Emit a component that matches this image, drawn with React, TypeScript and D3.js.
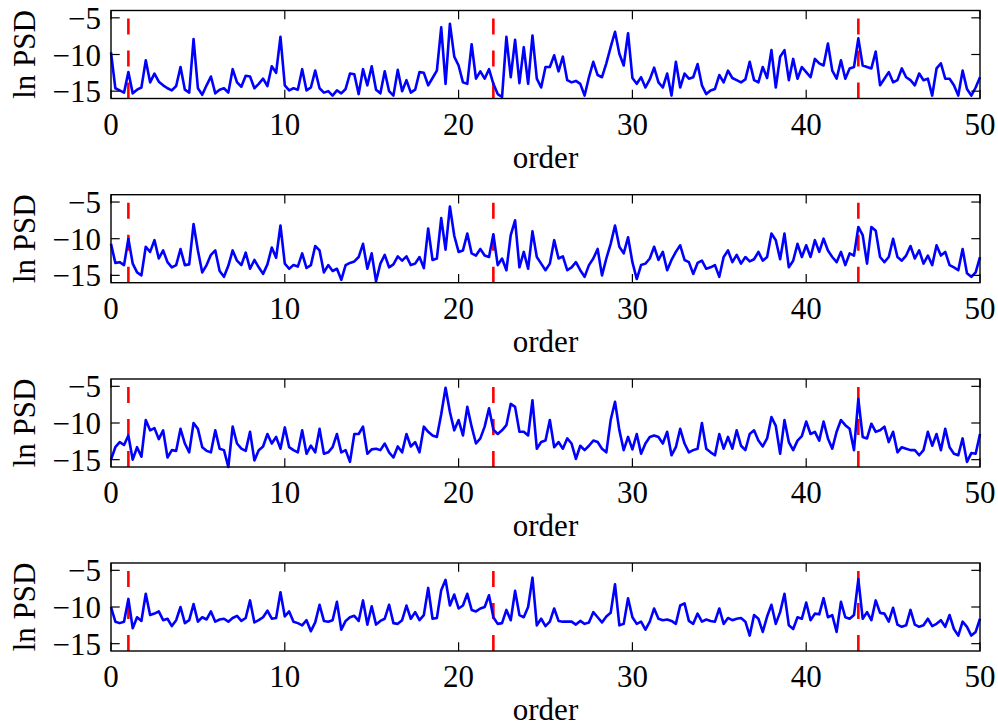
import React from 'react';
import * as d3 from 'd3';

// sampling of the order axis (every quarter order)
const orderStep = 0.25;
const xTicks = [0, 10, 20, 30, 40, 50];
const yTicks = [-15, -10, -5];
const markerOrders = [1, 22, 43];
const markerTop = -5;

const psd1 = [
  -9.7, -14.6, -14.9, -15.2, -12.4, -15.3, -14.8, -14.5,
  -10.8, -13.8, -12.6, -13.7, -14.2, -14.6, -14.9, -14.3,
  -11.7, -14.8, -15.2, -7.9, -14.6, -15.5, -14.2, -13.0,
  -15.3, -14.8, -14.6, -15.2, -12.0, -13.8, -14.4, -12.9,
  -13.0, -14.6, -14.0, -13.3, -14.3, -11.6, -12.5, -7.6,
  -14.2, -14.9, -14.6, -14.8, -12.0, -14.9, -14.5, -12.2,
  -14.6, -15.2, -15.0, -15.6, -14.9, -15.3, -14.7, -12.6,
  -12.7, -15.4, -12.0, -14.2, -11.6, -14.8, -15.3, -12.3,
  -15.0, -15.6, -12.1, -15.0, -13.5, -15.2, -14.8, -12.4,
  -12.5, -14.2, -13.2, -12.2, -6.3, -14.0, -5.8, -10.3,
  -11.5, -13.8, -14.0, -8.6, -13.3, -12.3, -13.3, -12.0,
  -14.0, -15.4, -15.8, -7.6, -13.1, -8.0, -13.9, -9.0,
  -14.0, -7.4, -13.3, -14.5, -11.7, -11.7, -10.1, -12.3,
  -10.3, -13.5, -13.8, -13.6, -14.0, -15.6, -13.1, -11.0,
  -12.8, -13.1, -11.2, -9.0, -6.9, -9.9, -11.5, -7.1,
  -13.2, -14.0, -13.1, -14.5, -13.4, -11.8, -13.8, -14.5,
  -12.6, -15.6, -11.0, -14.5, -12.6, -13.3, -13.1, -11.3,
  -14.2, -15.4, -14.9, -14.7, -12.8, -13.8, -12.2, -13.2,
  -13.5, -13.8, -13.4, -11.0, -13.5, -13.8, -11.7, -13.2,
  -9.4, -14.5, -10.3, -9.4, -13.5, -10.6, -13.3, -11.7,
  -12.4, -13.1, -10.6, -11.2, -11.5, -8.5, -12.2, -13.3,
  -10.8, -13.3, -11.9, -11.7, -7.8, -11.5, -11.7, -11.9,
  -9.6, -14.2, -13.3, -12.4, -13.8, -13.5, -11.9, -13.1,
  -13.5, -14.2, -12.6, -13.5, -13.3, -15.6, -11.9, -11.2,
  -13.3, -13.3, -14.2, -15.6, -12.2, -14.7, -15.6, -14.5,
  -13.1,
];

const psd2 = [
  -10.7, -13.3, -13.2, -13.6, -10.0, -13.4, -14.6, -15.0,
  -11.1, -11.8, -10.2, -12.7, -11.6, -13.2, -13.9, -13.6,
  -11.4, -13.6, -13.5, -8.0, -11.6, -14.6, -13.6, -12.2,
  -11.6, -14.4, -15.2, -13.7, -11.6, -13.0, -13.6, -11.9,
  -14.1, -12.9, -13.9, -14.8, -13.5, -11.2, -12.6, -8.2,
  -13.4, -14.1, -13.6, -13.8, -12.0, -14.0, -13.6, -11.0,
  -11.6, -14.6, -13.6, -14.4, -14.1, -15.6, -13.6, -13.3,
  -13.1, -12.5, -10.7, -14.1, -12.0, -15.8, -13.4, -12.2,
  -13.9, -13.5, -12.4, -13.0, -12.4, -13.6, -13.4, -12.5,
  -14.0, -8.6, -12.9, -12.7, -7.2, -11.5, -5.6, -9.6,
  -11.8, -11.6, -9.3, -12.0, -12.3, -11.4, -12.3, -12.5,
  -9.4, -13.6, -12.7, -14.3, -9.5, -7.5, -13.9, -11.8,
  -14.1, -9.0, -12.5, -13.4, -14.3, -13.4, -10.2, -12.7,
  -12.4, -14.3, -13.9, -13.2, -14.3, -15.2, -13.6, -12.7,
  -11.4, -15.0, -12.7, -10.7, -8.2, -11.1, -12.0, -9.8,
  -13.2, -15.5, -13.6, -13.4, -12.7, -11.1, -12.9, -11.8,
  -14.3, -12.9, -11.8, -10.9, -12.9, -13.2, -14.8, -13.3,
  -13.0, -14.1, -13.9, -13.6, -15.2, -12.5, -11.6, -13.2,
  -12.2, -13.4, -12.5, -13.1, -12.8, -11.8, -13.0, -12.5,
  -9.3, -10.2, -12.8, -9.3, -13.9, -13.0, -10.7, -12.5,
  -10.9, -12.5, -10.2, -11.8, -10.0, -11.6, -12.5, -13.2,
  -11.8, -13.6, -12.0, -12.3, -8.4, -9.5, -13.4, -8.4,
  -8.9, -12.5, -13.2, -12.5, -10.0, -12.5, -13.0, -12.3,
  -11.0, -12.7, -11.6, -13.4, -12.3, -13.6, -10.9, -12.3,
  -11.8, -13.6, -13.9, -14.3, -11.4, -14.7, -15.2, -14.6,
  -12.5,
];

const psd3 = [
  -15.0, -13.3, -12.6, -13.0, -11.7, -15.0, -13.3, -14.6,
  -9.6, -11.0, -10.7, -12.2, -11.0, -14.7, -13.7, -13.8,
  -10.8, -12.8, -14.0, -10.0, -10.8, -13.3, -13.8, -14.0,
  -11.0, -13.5, -13.7, -16.0, -10.5, -12.8, -13.5, -13.8,
  -11.2, -15.1, -13.7, -13.2, -11.5, -12.8, -11.9, -13.5,
  -10.6, -13.3, -13.7, -14.0, -11.0, -14.2, -13.1, -14.0,
  -10.8, -14.2, -14.0, -13.3, -11.5, -14.0, -13.7, -15.3,
  -11.5, -11.5, -10.5, -14.2, -13.6, -13.5, -13.7, -12.8,
  -14.0, -14.7, -13.2, -14.0, -11.5, -13.2, -12.6, -14.0,
  -10.5, -11.2, -11.7, -11.9, -8.8, -5.2, -8.5, -11.0,
  -9.6, -11.7, -7.8, -10.5, -12.8, -12.1, -10.5, -8.0,
  -10.9, -11.5, -11.0, -10.3, -7.4, -7.8, -11.2, -11.2,
  -11.7, -6.9, -13.5, -12.6, -12.4, -9.6, -13.3, -12.6,
  -13.5, -12.1, -12.8, -14.9, -13.1, -13.7, -13.1, -12.4,
  -12.6, -13.5, -14.0, -9.6, -7.1, -11.0, -13.7, -11.9,
  -13.6, -11.5, -14.2, -12.8, -11.9, -11.7, -11.9, -12.8,
  -11.2, -14.4, -13.3, -10.8, -12.8, -14.0, -13.7, -13.5,
  -10.0, -13.5, -14.0, -14.4, -11.5, -13.5, -11.9, -13.5,
  -11.0, -13.1, -13.7, -11.5, -11.0, -12.4, -13.2, -12.1,
  -9.2, -10.4, -14.2, -9.6, -12.6, -13.7, -12.4, -11.8,
  -9.8, -11.5, -11.2, -12.4, -9.8, -12.1, -13.5, -11.2,
  -9.6, -10.3, -10.8, -13.7, -6.7, -11.9, -12.1, -10.1,
  -11.2, -11.0, -10.5, -12.6, -11.2, -14.0, -13.3, -13.5,
  -13.7, -13.7, -14.4, -13.7, -11.2, -13.1, -11.5, -13.7,
  -10.8, -13.3, -14.2, -14.4, -12.1, -15.3, -14.1, -14.2,
  -11.5,
];

const psd4 = [
  -10.0, -12.0, -12.2, -12.0, -8.9, -12.9, -11.4, -11.9,
  -8.2, -11.1, -10.9, -10.6, -11.8, -11.6, -12.6, -11.8,
  -10.0, -12.2, -11.8, -9.6, -12.0, -11.4, -11.7, -10.6,
  -12.0, -11.7, -11.6, -12.0, -11.5, -11.2, -11.9, -11.5,
  -9.1, -12.1, -11.8, -11.4, -10.5, -11.6, -11.5, -8.0,
  -11.3, -10.6, -12.0, -12.2, -12.5, -11.8, -13.3, -12.1,
  -9.7, -11.9, -12.0, -11.8, -9.3, -13.1, -11.9, -11.4,
  -11.2, -11.9, -9.1, -12.4, -9.9, -12.4, -11.9, -11.6,
  -9.7, -12.2, -12.3, -11.8, -9.8, -11.6, -10.7, -11.8,
  -11.1, -7.4, -11.6, -11.5, -7.7, -6.3, -9.8, -8.3,
  -10.2, -9.8, -8.2, -10.4, -10.6, -10.2, -10.0, -8.4,
  -11.4, -12.3, -12.2, -10.4, -11.8, -7.8, -11.1, -11.4,
  -10.0, -6.0, -12.5, -11.6, -12.6, -12.0, -10.2, -11.9,
  -12.0, -12.0, -12.0, -12.4, -11.9, -12.3, -12.1, -10.7,
  -11.4, -12.1, -11.3, -10.8, -6.9, -12.5, -12.3, -8.8,
  -11.4, -12.3, -12.0, -13.1, -12.0, -10.2, -11.6, -11.8,
  -11.7, -11.9, -12.3, -9.8, -9.5, -11.9, -12.3, -10.9,
  -12.0, -11.7, -11.9, -12.0, -10.2, -12.3, -11.5, -11.8,
  -11.6, -11.5, -12.0, -13.9, -11.1, -11.6, -13.4, -11.3,
  -9.7, -12.3, -10.7, -8.2, -12.5, -13.0, -11.4, -11.6,
  -9.4, -11.8, -10.9, -11.0, -8.8, -11.4, -11.1, -13.4,
  -9.3, -11.4, -11.6, -11.1, -6.2, -11.6, -10.7, -11.8,
  -9.1, -10.8, -10.9, -12.0, -10.1, -12.4, -12.7, -12.5,
  -10.4, -12.4, -12.7, -12.5, -11.6, -12.6, -12.3, -11.8,
  -12.7, -11.1, -13.0, -13.9, -12.0, -12.7, -13.9, -13.4,
  -11.6,
];

const panels = [psd1, psd2, psd3, psd4];

const width = 998;
const height = 727;
const plotLeft = 111;
const plotRight = 980;
const panelTops = [10.5, 194.7, 379, 563];
const panelH = 88;
const tickLen = 8.7;
const font = "'Liberation Serif', 'Times New Roman', Times, serif";
const fontSize = 31;

const fmt = (t: number) => (t < 0 ? '\u2212' : '') + Math.abs(t);

const Panel = ({ data, top }: { data: number[]; top: number }) => {
  const x = d3.scaleLinear().domain([0, 50]).range([plotLeft, plotRight]);
  const y = d3.scaleLinear().domain([-16, -4]).range([top + panelH, top]);
  const line = d3
    .line<number>()
    .x((_, i) => x(i * orderStep))
    .y((d) => y(d));
  const bottom = top + panelH;

  return (
    <g>
      {markerOrders.map((m) => (
        <line
          key={m}
          x1={x(m)}
          x2={x(m)}
          y1={y(-16)}
          y2={y(markerTop)}
          stroke="#ff0000"
          strokeWidth={2.6}
          strokeDasharray="16 16"
        />
      ))}
      <path d={line(data) || ''} fill="none" stroke="#0000ff" strokeWidth={2.6} strokeLinejoin="round" />
      <rect x={plotLeft} y={top} width={plotRight - plotLeft} height={panelH} fill="none" stroke="#000" strokeWidth={1.4} />
      {xTicks.map((t) => (
        <g key={'x' + t}>
          <line x1={x(t)} x2={x(t)} y1={bottom} y2={bottom - tickLen} stroke="#000" strokeWidth={1.2} />
          <line x1={x(t)} x2={x(t)} y1={top} y2={top + tickLen} stroke="#000" strokeWidth={1.2} />
          <text x={x(t)} y={bottom + 36} textAnchor="middle" fontFamily={font} fontSize={fontSize}>
            {fmt(t)}
          </text>
        </g>
      ))}
      {yTicks.map((t) => (
        <g key={'y' + t}>
          <line x1={plotLeft} x2={plotLeft + tickLen} y1={y(t)} y2={y(t)} stroke="#000" strokeWidth={1.2} />
          <line x1={plotRight} x2={plotRight - tickLen} y1={y(t)} y2={y(t)} stroke="#000" strokeWidth={1.2} />
          <text x={101} y={y(t) + 11} textAnchor="end" fontFamily={font} fontSize={fontSize}>
            {fmt(t)}
          </text>
        </g>
      ))}
      <text x={(plotLeft + plotRight) / 2} y={bottom + 69} textAnchor="middle" fontFamily={font} fontSize={fontSize}>
        order
      </text>
      <text
        transform={`translate(35,${top + panelH / 2}) rotate(-90)`}
        textAnchor="middle"
        fontFamily={font}
        fontSize={fontSize}
      >
        ln PSD
      </text>
    </g>
  );
};

export default function App() {
  return (
    <svg
      width={width}
      height={height}
      style={{ position: 'absolute', left: 0, top: 0, background: '#fff' }}
    >
      <rect width={width} height={height} fill="#fff" />
      {panels.map((data, i) => (
        <Panel key={i} data={data} top={panelTops[i]} />
      ))}
    </svg>
  );
}
